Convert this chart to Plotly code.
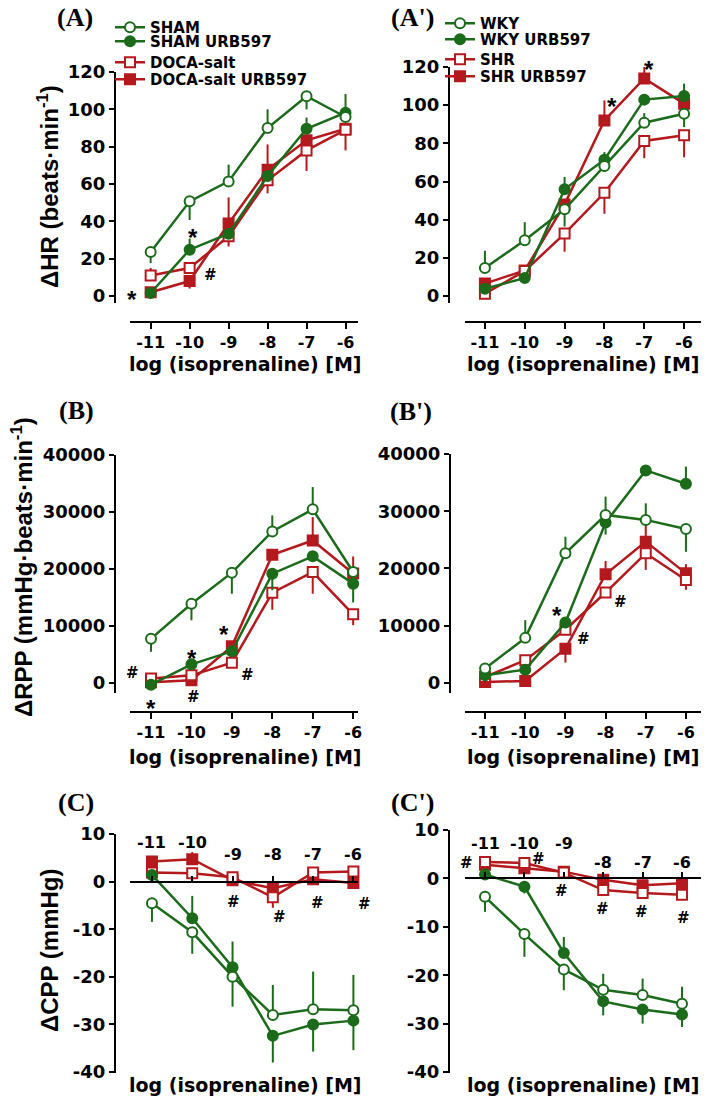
import plotly.graph_objects as go

# ---------------- data ----------------
CONC = [-11, -10, -9, -8, -7, -6]
CONC_LABELS = ["-11", "-10", "-9", "-8", "-7", "-6"]

HR_TICKS = [0, 20, 40, 60, 80, 100, 120]
HR_TICK_LABELS = ["0", "20", "40", "60", "80", "100", "120"]
RPP_TICKS = [0, 10000, 20000, 30000, 40000]
RPP_TICK_LABELS = ["0", "10000", "20000", "30000", "40000"]
CPP_TICKS = [-40, -30, -20, -10, 0, 10]
CPP_TICK_LABELS = ["-40", "-30", "-20", "-10", "0", "10"]

NAMES_LEFT = ["SHAM", "SHAM URB597", "DOCA-salt", "DOCA-salt URB597"]
NAMES_RIGHT = ["WKY", "WKY URB597", "SHR", "SHR URB597"]

# Panel A  (ΔHR, SHAM / DOCA-salt)
HR_SHAM = [23.6, 50.7, 61.4, 90.0, 107.0, 95.9]
HR_SHAM_UP = [0, 0, 9, 10, 0, 0]
HR_SHAM_DN = [6, 10, 0, 0, 7, 0]
HR_SHAM_URB = [1.6, 24.8, 33.4, 64.3, 89.6, 98.2]
HR_SHAM_URB_UP = [0, 6, 0, 0, 6, 10]
HR_SHAM_URB_DN = [0, 0, 0, 0, 0, 0]
HR_DOCA = [11.0, 15.0, 32.0, 62.0, 78.0, 89.0]
HR_DOCA_UP = [4, 0, 0, 0, 0, 0]
HR_DOCA_DN = [0, 0, 5.5, 7, 11, 11]
HR_DOCA_URB = [2.0, 8.0, 38.8, 67.7, 83.4, 89.6]
HR_DOCA_URB_UP = [0, 0, 14, 13.5, 0, 0]
HR_DOCA_URB_DN = [0, 4, 0, 0, 0, 0]

# Panel A'  (ΔHR, WKY / SHR)
HR_WKY = [14.7, 29.2, 45.4, 68.1, 90.8, 95.5]
HR_WKY_UP = [9, 9.5, 0, 0, 5, 0]
HR_WKY_DN = [0, 0, 9, 3, 0, 7]
HR_WKY_URB = [3.8, 9.4, 55.9, 71.4, 102.9, 104.8]
HR_WKY_URB_UP = [0, 0, 6.5, 4, 0, 6.5]
HR_WKY_URB_DN = [0, 0, 0, 0, 0, 0]
HR_SHR = [1.2, 13.1, 32.7, 54.1, 81.2, 84.2]
HR_SHR_UP = [0, 0, 0, 0, 0, 0]
HR_SHR_DN = [0, 0, 9.5, 11, 9, 11.5]
HR_SHR_URB = [6.5, 13.4, 48.0, 92.0, 114.0, 100.8]
HR_SHR_URB_UP = [0, 0, 0, 10.5, 6, 0]
HR_SHR_URB_DN = [0, 0, 0, 0, 0, 0]

# Panel B  (ΔRPP, SHAM / DOCA-salt)
RPP_SHAM = [7780, 13900, 19360, 26600, 30470, 19470]
RPP_SHAM_UP = [0, 0, 0, 2800, 3900, 0]
RPP_SHAM_DN = [2300, 2900, 3700, 0, 0, 0]
RPP_SHAM_URB = [-300, 3280, 5560, 19180, 22220, 17430]
RPP_SHAM_URB_UP = [0, 0, 0, 0, 0, 0]
RPP_SHAM_URB_DN = [0, 0, 0, 2900, 0, 3300]
RPP_DOCA = [800, 1350, 3570, 15850, 19470, 12050]
RPP_DOCA_UP = [0, 0, 0, 0, 0, 0]
RPP_DOCA_DN = [0, 0, 0, 3000, 3800, 1900]
RPP_DOCA_URB = [150, 500, 6430, 22500, 25000, 19200]
RPP_DOCA_URB_UP = [0, 0, 0, 0, 4100, 3000]
RPP_DOCA_URB_DN = [0, 0, 0, 0, 0, 0]

# Panel B'  (ΔRPP, WKY / SHR)
RPP_WKY = [2510, 7880, 22650, 29360, 28490, 26910]
RPP_WKY_UP = [0, 3100, 2900, 3200, 2900, 0]
RPP_WKY_DN = [0, 0, 0, 0, 0, 4000]
RPP_WKY_URB = [1340, 2330, 10570, 28020, 37130, 34800]
RPP_WKY_URB_UP = [0, 0, 0, 0, 0, 3000]
RPP_WKY_URB_DN = [0, 0, 0, 2100, 0, 0]
RPP_SHR = [1050, 3970, 9300, 15800, 22650, 17980]
RPP_SHR_UP = [0, 0, 0, 0, 0, 0]
RPP_SHR_DN = [0, 0, 0, 0, 2900, 1700]
RPP_SHR_URB = [175, 350, 6000, 19000, 24690, 19150]
RPP_SHR_URB_UP = [0, 0, 0, 2300, 2900, 1600]
RPP_SHR_URB_DN = [0, 0, 2450, 0, 0, 0]

# Panel C  (ΔCPP, SHAM / DOCA-salt)
CPP_SHAM = [-4.55, -10.65, -19.96, -28.0, -26.8, -27.0]
CPP_SHAM_UP = [0, 0, 0, 6.3, 7.9, 7.4]
CPP_SHAM_DN = [3.9, 4.5, 6.3, 0, 0, 0]
CPP_SHAM_URB = [1.4, -7.7, -18.0, -32.4, -30.0, -29.2]
CPP_SHAM_URB_UP = [0, 4.7, 5.4, 0, 0, 0]
CPP_SHAM_URB_DN = [0, 0, 0, 5.6, 5.7, 6.2]
CPP_DOCA = [1.9, 1.75, 0.9, -3.3, 1.9, 2.1]
CPP_DOCA_UP = [0, 0, 0, 0, 0, 0]
CPP_DOCA_DN = [0, 1.5, 1.8, 2.2, 2.4, 0]
CPP_DOCA_URB = [4.2, 4.7, 0.3, -1.4, 0.5, -0.3]
CPP_DOCA_URB_UP = [0, 1.5, 0, 0, 0, 0]
CPP_DOCA_URB_DN = [0, 0, 0, 0, 0, 0]

# Panel C'  (ΔCPP, WKY / SHR)
CPP_WKY = [-3.8, -11.5, -18.8, -23.0, -24.1, -25.9]
CPP_WKY_UP = [0, 0, 0, 3.3, 3.4, 3.5]
CPP_WKY_DN = [3.1, 4.7, 4.3, 0, 0, 0]
CPP_WKY_URB = [0.8, -1.7, -15.4, -25.4, -27.1, -28.1]
CPP_WKY_URB_UP = [0, 0, 3.3, 0, 0, 0]
CPP_WKY_URB_DN = [0, 1.4, 0, 2.9, 2.9, 2.6]
CPP_SHR = [3.4, 3.2, 1.2, -2.4, -3.0, -3.4]
CPP_SHR_UP = [0, 0, 0, 0, 0, 0]
CPP_SHR_DN = [0, 0, 0, 0, 0, 0]
CPP_SHR_URB = [2.8, 2.1, 1.4, -0.3, -1.4, -1.0]
CPP_SHR_URB_UP = [0, 0, 0, 0, 0, 0]
CPP_SHR_URB_DN = [0, 0, 0, 0, 0, 0]

# ---------------- styling / layout ----------------
PAGE_W, PAGE_H = 709, 1099
OFF = 8                      # default page margin around the plot div
W, H = PAGE_W - OFF, PAGE_H - OFF
GREEN = "#1b6b1b"
RED = "#b3191d"
SANS = "DejaVu Sans, Verdana, sans-serif"
SANS_NARROW = "Liberation Sans, Arial, sans-serif"
SERIF = "Liberation Serif, Times New Roman, serif"


def fx(p):
    return (p - OFF) / W


def fy(p):
    return 1 - (p - OFF) / H


STYLES = {
    "ctrl": dict(symbol="circle", fill="white", color=GREEN, size=10),
    "ctrl_urb": dict(symbol="circle", fill=GREEN, color=GREEN, size=10),
    "hyp": dict(symbol="square", fill="white", color=RED, size=10),
    "hyp_urb": dict(symbol="square", fill=RED, color=RED, size=10),
}
KEYS = ["ctrl", "ctrl_urb", "hyp", "hyp_urb"]
DRAW_ORDER = ["hyp_urb", "hyp", "ctrl_urb", "ctrl"]

PANELS = [
    dict(ax="", xdom=(130, 358), ydom=(72, 303), xr=(-11.53, -5.68), yr=(-3.75, 120), ypos=115, xline=322,
         ticks=(HR_TICKS, HR_TICK_LABELS), names=NAMES_LEFT,
         legends=["legend", "legend2", "legend3", "legend4"],
         series={"ctrl": (HR_SHAM, HR_SHAM_UP, HR_SHAM_DN), "ctrl_urb": (HR_SHAM_URB, HR_SHAM_URB_UP, HR_SHAM_URB_DN),
                 "hyp": (HR_DOCA, HR_DOCA_UP, HR_DOCA_DN), "hyp_urb": (HR_DOCA_URB, HR_DOCA_URB_UP, HR_DOCA_URB_DN)}),
    dict(ax="2", xdom=(465, 706), ydom=(67, 303), xr=(-11.50, -5.45), yr=(-3.67, 120), ypos=449, xline=322,
         ticks=(HR_TICKS, HR_TICK_LABELS), names=NAMES_RIGHT,
         legends=["legend5", "legend6", "legend7", "legend8"],
         series={"ctrl": (HR_WKY, HR_WKY_UP, HR_WKY_DN), "ctrl_urb": (HR_WKY_URB, HR_WKY_URB_UP, HR_WKY_URB_DN),
                 "hyp": (HR_SHR, HR_SHR_UP, HR_SHR_DN), "hyp_urb": (HR_SHR_URB, HR_SHR_URB_UP, HR_SHR_URB_DN)}),
    dict(ax="3", xdom=(130, 358), ydom=(455, 693), xr=(-11.52, -5.88), yr=(-1750, 40000), ypos=115, xline=712,
         ticks=(RPP_TICKS, RPP_TICK_LABELS), names=NAMES_LEFT, legends=None,
         series={"ctrl": (RPP_SHAM, RPP_SHAM_UP, RPP_SHAM_DN), "ctrl_urb": (RPP_SHAM_URB, RPP_SHAM_URB_UP, RPP_SHAM_URB_DN),
                 "hyp": (RPP_DOCA, RPP_DOCA_UP, RPP_DOCA_DN), "hyp_urb": (RPP_DOCA_URB, RPP_DOCA_URB_UP, RPP_DOCA_URB_DN)}),
    dict(ax="4", xdom=(465, 706), ydom=(454, 693), xr=(-11.50, -5.50), yr=(-1750, 40000), ypos=450, xline=712,
         ticks=(RPP_TICKS, RPP_TICK_LABELS), names=NAMES_RIGHT, legends=None,
         series={"ctrl": (RPP_WKY, RPP_WKY_UP, RPP_WKY_DN), "ctrl_urb": (RPP_WKY_URB, RPP_WKY_URB_UP, RPP_WKY_URB_DN),
                 "hyp": (RPP_SHR, RPP_SHR_UP, RPP_SHR_DN), "hyp_urb": (RPP_SHR_URB, RPP_SHR_URB_UP, RPP_SHR_URB_DN)}),
    dict(ax="5", xdom=(130, 358), ydom=(834, 1073), xr=(-11.545, -5.886), yr=(-40.2, 10), ypos=115, xline=None,
         ticks=(CPP_TICKS, CPP_TICK_LABELS), names=NAMES_LEFT, legends=None,
         series={"ctrl": (CPP_SHAM, CPP_SHAM_UP, CPP_SHAM_DN), "ctrl_urb": (CPP_SHAM_URB, CPP_SHAM_URB_UP, CPP_SHAM_URB_DN),
                 "hyp": (CPP_DOCA, CPP_DOCA_UP, CPP_DOCA_DN), "hyp_urb": (CPP_DOCA_URB, CPP_DOCA_URB_UP, CPP_DOCA_URB_DN)}),
    dict(ax="6", xdom=(465, 703), ydom=(830, 1073), xr=(-11.508, -5.467), yr=(-40.2, 10), ypos=449, xline=None,
         ticks=(CPP_TICKS, CPP_TICK_LABELS), names=NAMES_RIGHT, legends=None,
         series={"ctrl": (CPP_WKY, CPP_WKY_UP, CPP_WKY_DN), "ctrl_urb": (CPP_WKY_URB, CPP_WKY_URB_UP, CPP_WKY_URB_DN),
                 "hyp": (CPP_SHR, CPP_SHR_UP, CPP_SHR_DN), "hyp_urb": (CPP_SHR_URB, CPP_SHR_URB_UP, CPP_SHR_URB_DN)}),
]
PANEL_BY_AX = {p["ax"]: p for p in PANELS}


def data_to_paper(ax, xv, yv):
    p = PANEL_BY_AX[ax]
    x0, x1 = fx(p["xdom"][0]), fx(p["xdom"][1])
    y0, y1 = fy(p["ydom"][1]), fy(p["ydom"][0])
    px = x0 + (xv - p["xr"][0]) / (p["xr"][1] - p["xr"][0]) * (x1 - x0)
    py = y0 + (yv - p["yr"][0]) / (p["yr"][1] - p["yr"][0]) * (y1 - y0)
    return px, py


fig = go.Figure()
layout = {}
annotations = []

for p in PANELS:
    xa, ya = "x" + p["ax"], "y" + p["ax"]
    for key in DRAW_ORDER:
        st = STYLES[key]
        yv, up, dn = p["series"][key]
        idx = KEYS.index(key)
        tr = dict(
            x=CONC, y=yv, mode="lines+markers", name=p["names"][idx], xaxis=xa, yaxis=ya,
            line=dict(color=st["color"], width=2.5),
            marker=dict(symbol=st["symbol"], size=st["size"], color=st["fill"],
                        line=dict(color=st["color"], width=2)),
            error_y=dict(type="data", symmetric=False, array=up, arrayminus=dn,
                         color=st["color"], thickness=2, width=0),
            cliponaxis=False, showlegend=p["legends"] is not None,
        )
        if p["legends"]:
            tr["legend"] = p["legends"][idx]
        fig.add_trace(go.Scatter(**tr))

    ydom = [fy(p["ydom"][1]), fy(p["ydom"][0])]
    layout["yaxis" + p["ax"]] = dict(
        domain=ydom, range=list(p["yr"]), anchor="free", position=fx(p["ypos"]),
        showline=True, linewidth=2, linecolor="black", ticks="outside", ticklen=5,
        tickwidth=2, tickcolor="black", tickvals=p["ticks"][0], ticktext=p["ticks"][1],
        tickfont=dict(family=SANS, size=18, color="black", weight="bold"),
        showgrid=False, zeroline=False,
    )
    xcfg = dict(
        domain=[fx(p["xdom"][0]), fx(p["xdom"][1])], range=list(p["xr"]), anchor="free",
        showline=True, linewidth=2, linecolor="black", tickwidth=2, tickcolor="black",
        tickvals=CONC, ticktext=CONC_LABELS, showgrid=False, zeroline=False,
        tickfont=dict(family=SANS, size=16, color="black", weight="bold"),
    )
    if p["xline"] is not None:
        xcfg.update(position=fy(p["xline"]), ticks="outside", ticklen=6)
    else:
        y0, y1 = p["yr"]
        zero_pos = ydom[0] + (0 - y0) / (y1 - y0) * (ydom[1] - ydom[0])
        xcfg.update(position=zero_pos, ticks="inside", ticklen=5, showticklabels=False)
    layout["xaxis" + p["ax"]] = xcfg

# staggered tick labels above the zero line in the CPP panels
C_LABEL_Y = [8.3, 8.3, 5.6, 5.6, 5.6, 5.6]
CP_LABEL_Y = [7.2, 7.2, 7.2, 3.3, 3.3, 3.3]
for ax, heights in (("5", C_LABEL_Y), ("6", CP_LABEL_Y)):
    for xv, lab, yv in zip(CONC, CONC_LABELS, heights):
        px, py = data_to_paper(ax, xv, yv)
        annotations.append(dict(x=px, y=py, xref="paper", yref="paper", text=lab, showarrow=False,
                                xanchor="center", yanchor="middle",
                                font=dict(family=SANS, size=16, color="black", weight="bold")))

# x-axis titles
for cx, cy in ((245, 364), (583, 364), (245, 757), (583, 757), (245, 1085), (583, 1085)):
    annotations.append(dict(x=fx(cx), y=fy(cy), xref="paper", yref="paper", text="log (isoprenaline) [M]",
                            showarrow=False, xanchor="center", yanchor="middle",
                            font=dict(family=SANS, size=19, color="black", weight="bold")))

# y-axis titles
for txt, cx, cy in (("ΔHR (beats·min<sup>-1</sup>)", 48, 187),
                    ("ΔRPP (mmHg·beats·min<sup>-1</sup>)", 22, 567),
                    ("ΔCPP (mmHg)", 49, 950)):
    annotations.append(dict(x=fx(cx), y=fy(cy), xref="paper", yref="paper", text=txt, textangle=-90,
                            showarrow=False, xanchor="center", yanchor="middle",
                            font=dict(family=SANS_NARROW, size=24, color="black", weight="bold")))

# panel letters
for txt, cx, cy in (("(A)", 75, 17), ("(A')", 412, 17), ("(B)", 76, 410), ("(B')", 411, 411),
                    ("(C)", 76, 802), ("(C')", 412, 802)):
    annotations.append(dict(x=fx(cx), y=fy(cy), xref="paper", yref="paper", text=txt, showarrow=False,
                            xanchor="center", yanchor="middle",
                            font=dict(family=SERIF, size=26, color="black", weight="bold")))

# significance marks (positions in data units of each panel)
MARKS = [
    ("", "*", -11.47, 1.6), ("", "*", -9.91, 34.3), ("", "#", -9.47, 11.2),
    ("2", "*", -7.81, 102.7), ("2", "*", -6.88, 122.0),
    ("3", "#", -11.45, 1750), ("3", "*", -9.99, 5440), ("3", "*", -9.19, 9650), ("3", "#", -8.62, 1400),
    ("3", "*", -11.0, -3500), ("3", "#", -9.96, -2460),
    ("4", "*", -9.21, 12760), ("4", "#", -8.56, 7690), ("4", "#", -7.62, 14160),
    ("5", "#", -8.97, -4.3), ("5", "#", -7.83, -7.4), ("5", "#", -6.89, -4.5), ("5", "#", -5.73, -4.7),
    ("6", "#", -11.46, 3.1), ("6", "#", -9.63, 4.1), ("6", "#", -9.05, -2.7), ("6", "#", -8.03, -6.4),
    ("6", "#", -7.02, -7.0), ("6", "#", -5.97, -8.1),
]
for ax, sym, xv, yv in MARKS:
    if sym == "*":
        f = dict(family=SANS_NARROW, size=24, color="black", weight="bold")
        shift = -6
    else:
        f = dict(family=SANS, size=15, color="black", weight="bold")
        shift = 0
    px, py = data_to_paper(ax, xv, yv)
    annotations.append(dict(x=px, y=py, xref="paper", yref="paper", text=sym, showarrow=False,
                            xanchor="center", yanchor="middle", yshift=shift, font=f))

# one legend per entry so rows can sit exactly where the reference has them
legend_font = dict(family=SANS, size=15, color="black", weight="bold")
LEGEND_ROWS = {
    "": (110, [28, 42, 63, 80]),
    "2": (440, [24, 40, 60, 77]),
}
for p in PANELS[:2]:
    lx, rows = LEGEND_ROWS[p["ax"]]
    for lg, row in zip(p["legends"], rows):
        layout[lg] = dict(x=fx(lx), y=fy(row - 17), xanchor="left", yanchor="top", font=legend_font,
                          bgcolor="rgba(0,0,0,0)", itemwidth=30, borderwidth=0)

fig.update_layout(
    width=W, height=H, margin=dict(l=0, r=0, t=0, b=0, pad=0, autoexpand=False),
    paper_bgcolor="white", plot_bgcolor="white", showlegend=True,
    annotations=annotations, **layout,
)

fig.write_html("out.html")
